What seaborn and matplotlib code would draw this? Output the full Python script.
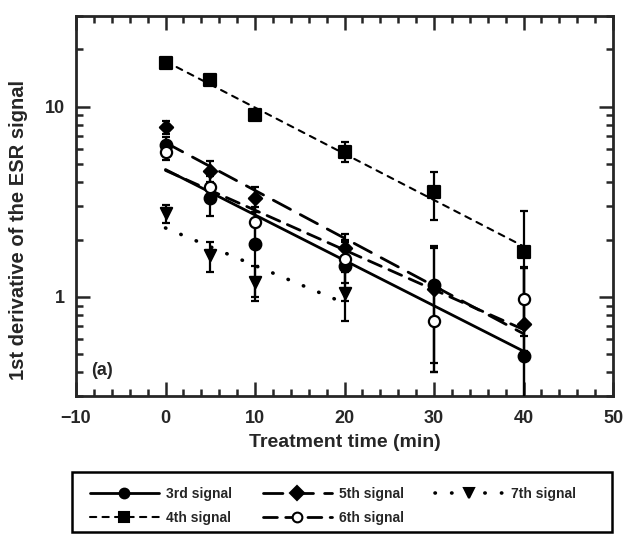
import numpy as np
import pandas as pd
import matplotlib
matplotlib.use("Agg")
import matplotlib.pyplot as plt
import seaborn as sns
from matplotlib.lines import Line2D
from matplotlib.patches import Rectangle
from matplotlib.ticker import MultipleLocator, FixedLocator, NullFormatter

# treatment times (min)
times = [0, 5, 10, 20, 30, 40]
times_7th = [0, 5, 10, 20]

# signal intensities
sig3 = [6.3, 3.3, 1.9, 1.45, 1.15, 0.49]
sig4 = [17.0, 13.8, 9.1, 5.8, 3.55, 1.72]
sig5 = [7.8, 4.6, 3.3, 1.8, 1.1, 0.72]
sig6 = [5.75, 3.8, 2.47, 1.58, 0.75, 0.97]
sig7 = [2.75, 1.65, 1.2, 1.05]

err3 = [0.6, 0.65, 0.9, 0.5, 0.7, 0.95]
err4 = [0.6, 0.7, 0.5, 0.7, 1.0, 1.1]
err5 = [0.6, 0.6, 0.5, 0.35, 0.7, 0.7]
err6 = [0.5, 0.5, 0.5, 0.4, 0.35, 0.45]
err7 = [0.3, 0.3, 0.25, 0.3]

labels = ["3rd signal", "4th signal", "5th signal", "6th signal", "7th signal"]

series = [
    (labels[0], times, sig3, err3, "o", "black", "-", 2.0, 70),
    (labels[1], times, sig4, err4, "s", "black", (0, (3, 3)), 1.5, 65),
    (labels[2], times, sig5, err5, "D", "black", (0, (7, 4)), 2.0, 45),
    (labels[3], times, sig6, err6, "o", "white", (0, (5, 3)), 2.0, 65),
    (labels[4], times_7th, sig7, err7, "v", "black", (0, (0.1, 4.5)), 2.6, 65),
]

sns.set_style("ticks")
plt.rcParams["font.family"] = ["Liberation Sans", "DejaVu Sans"]
plt.rcParams["font.weight"] = "bold"

fig = plt.figure(figsize=(6.23, 5.34), dpi=100)
ax = fig.add_axes([0.122, 0.258, 0.862, 0.712])
ax.set_yscale("log")

handles = []
for name, t, v, e, mk, fc, ls, lw, ms in series:
    t = np.array(t, dtype=float)
    v = np.array(v)
    # exponential fit (straight line on the log axis)
    slope, icpt = np.polyfit(t, np.log10(v), 1)
    tt = np.linspace(t.min(), t.max(), 50)
    fit = pd.DataFrame({"t": tt, "y": 10 ** (icpt + slope * tt)})
    sns.lineplot(data=fit, x="t", y="y", ax=ax, color="black",
                 linewidth=lw, linestyle=ls, dash_capstyle="round", legend=False)
    ax.errorbar(t, v, yerr=e, fmt="none", ecolor="black", elinewidth=1.6,
                capsize=3, capthick=1.6, zorder=3)
    pts = pd.DataFrame({"t": t, "y": v})
    sns.scatterplot(data=pts, x="t", y="y", ax=ax, marker=mk, s=ms,
                    color=fc, edgecolor="black", linewidth=1.6, zorder=4,
                    legend=False)
    handles.append(Line2D([0], [0], color="black", linestyle=ls, linewidth=lw,
                          dash_capstyle="round", marker=mk, markersize=7,
                          markerfacecolor=fc, markeredgecolor="black",
                          markeredgewidth=1.5))

ax.set_xlim(-10, 50)
ax.set_ylim(0.3, 30)
ax.xaxis.set_major_locator(MultipleLocator(10))
ax.xaxis.set_minor_locator(MultipleLocator(2))
ax.yaxis.set_major_locator(FixedLocator([1, 10]))
ax.set_yticklabels(["1", "10"])
minors = [k * 10.0 ** p for p in (-1, 0, 1) for k in range(2, 10)]
ax.yaxis.set_minor_locator(FixedLocator([m for m in minors if 0.3 <= m <= 30]))
ax.yaxis.set_minor_formatter(NullFormatter())
ax.tick_params(which="both", direction="in", top=True, right=True, width=1.8)
ax.tick_params(which="major", length=10, labelsize=13)
ax.tick_params(axis="x", which="major", pad=10)
ax.tick_params(axis="y", which="major", pad=8)
ax.tick_params(which="minor", length=5)
for sp in ax.spines.values():
    sp.set_linewidth(2)
    sp.set_visible(True)

ax.set_xlabel("Treatment time (min)", fontsize=14, fontweight="bold", labelpad=5)
ax.set_ylabel("1st derivative of the ESR signal", fontsize=14.5, fontweight="bold")
ax.yaxis.set_label_coords(-0.089, 0.437)
ax.text(-8.3, 0.41, "(a)", fontsize=13, fontweight="bold", va="center")

# legend box spans the plot width, entries packed to the left
fig.patches.append(Rectangle((0.116, 0.004), 0.866, 0.112, transform=fig.transFigure,
                             fill=False, edgecolor="black", linewidth=1.8))
fig.legend(handles, labels, ncol=3, loc="upper left",
           bbox_to_anchor=(0.144, 0.088), frameon=False, fontsize=10,
           handlelength=5.0, handletextpad=0.5, columnspacing=2.2,
           labelspacing=0.7, borderpad=0, borderaxespad=0)

fig.savefig("out.png", dpi=100)
